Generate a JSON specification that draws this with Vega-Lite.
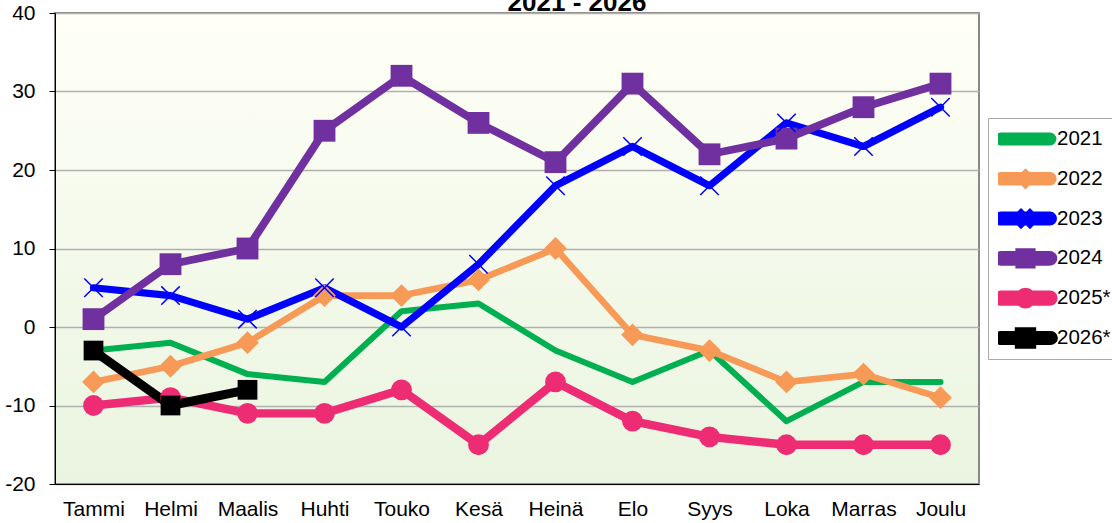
{
  "$schema": "https://vega.github.io/schema/vega-lite/v6.json",
  "width": 924,
  "height": 471,
  "autosize": {"type": "none"},
  "padding": {"left": 55, "top": 13, "right": 133, "bottom": 39},
  "background": "white",
  "title": {"text": "2021 - 2026", "fontSize": 26, "fontWeight": "bold", "font": "Liberation Sans", "anchor": "middle", "frame": "group", "dx": 60, "dy": 38, "baseline": "alphabetic", "offset": 3, "color": "black"},
  "config": {
    "font": "Liberation Sans",
    "view": {
      "stroke": "#888888",
      "strokeWidth": 2,
      "fill": {"gradient": "linear", "x1": 0, "y1": 0, "x2": 0, "y2": 1, "stops": [{"offset": 0, "color": "#FFFFF6"}, {"offset": 1, "color": "#EAF4E0"}]}
    }
  },
  "data": {"values": [
    {"month": "Tammi", "m": 1, "series": "2021", "value": -3},
    {"month": "Helmi", "m": 2, "series": "2021", "value": -2},
    {"month": "Maalis", "m": 3, "series": "2021", "value": -6},
    {"month": "Huhti", "m": 4, "series": "2021", "value": -7},
    {"month": "Touko", "m": 5, "series": "2021", "value": 2},
    {"month": "Kesä", "m": 6, "series": "2021", "value": 3},
    {"month": "Heinä", "m": 7, "series": "2021", "value": -3},
    {"month": "Elo", "m": 8, "series": "2021", "value": -7},
    {"month": "Syys", "m": 9, "series": "2021", "value": -3},
    {"month": "Loka", "m": 10, "series": "2021", "value": -12},
    {"month": "Marras", "m": 11, "series": "2021", "value": -7},
    {"month": "Joulu", "m": 12, "series": "2021", "value": -7},
    {"month": "Tammi", "m": 1, "series": "2022", "value": -7},
    {"month": "Helmi", "m": 2, "series": "2022", "value": -5},
    {"month": "Maalis", "m": 3, "series": "2022", "value": -2},
    {"month": "Huhti", "m": 4, "series": "2022", "value": 4},
    {"month": "Touko", "m": 5, "series": "2022", "value": 4},
    {"month": "Kesä", "m": 6, "series": "2022", "value": 6},
    {"month": "Heinä", "m": 7, "series": "2022", "value": 10},
    {"month": "Elo", "m": 8, "series": "2022", "value": -1},
    {"month": "Syys", "m": 9, "series": "2022", "value": -3},
    {"month": "Loka", "m": 10, "series": "2022", "value": -7},
    {"month": "Marras", "m": 11, "series": "2022", "value": -6},
    {"month": "Joulu", "m": 12, "series": "2022", "value": -9},
    {"month": "Tammi", "m": 1, "series": "2023", "value": 5},
    {"month": "Helmi", "m": 2, "series": "2023", "value": 4},
    {"month": "Maalis", "m": 3, "series": "2023", "value": 1},
    {"month": "Huhti", "m": 4, "series": "2023", "value": 5},
    {"month": "Touko", "m": 5, "series": "2023", "value": 0},
    {"month": "Kesä", "m": 6, "series": "2023", "value": 8},
    {"month": "Heinä", "m": 7, "series": "2023", "value": 18},
    {"month": "Elo", "m": 8, "series": "2023", "value": 23},
    {"month": "Syys", "m": 9, "series": "2023", "value": 18},
    {"month": "Loka", "m": 10, "series": "2023", "value": 26},
    {"month": "Marras", "m": 11, "series": "2023", "value": 23},
    {"month": "Joulu", "m": 12, "series": "2023", "value": 28},
    {"month": "Tammi", "m": 1, "series": "2024", "value": 1},
    {"month": "Helmi", "m": 2, "series": "2024", "value": 8},
    {"month": "Maalis", "m": 3, "series": "2024", "value": 10},
    {"month": "Huhti", "m": 4, "series": "2024", "value": 25},
    {"month": "Touko", "m": 5, "series": "2024", "value": 32},
    {"month": "Kesä", "m": 6, "series": "2024", "value": 26},
    {"month": "Heinä", "m": 7, "series": "2024", "value": 21},
    {"month": "Elo", "m": 8, "series": "2024", "value": 31},
    {"month": "Syys", "m": 9, "series": "2024", "value": 22},
    {"month": "Loka", "m": 10, "series": "2024", "value": 24},
    {"month": "Marras", "m": 11, "series": "2024", "value": 28},
    {"month": "Joulu", "m": 12, "series": "2024", "value": 31},
    {"month": "Tammi", "m": 1, "series": "2025*", "value": -10},
    {"month": "Helmi", "m": 2, "series": "2025*", "value": -9},
    {"month": "Maalis", "m": 3, "series": "2025*", "value": -11},
    {"month": "Huhti", "m": 4, "series": "2025*", "value": -11},
    {"month": "Touko", "m": 5, "series": "2025*", "value": -8},
    {"month": "Kesä", "m": 6, "series": "2025*", "value": -15},
    {"month": "Heinä", "m": 7, "series": "2025*", "value": -7},
    {"month": "Elo", "m": 8, "series": "2025*", "value": -12},
    {"month": "Syys", "m": 9, "series": "2025*", "value": -14},
    {"month": "Loka", "m": 10, "series": "2025*", "value": -15},
    {"month": "Marras", "m": 11, "series": "2025*", "value": -15},
    {"month": "Joulu", "m": 12, "series": "2025*", "value": -15},
    {"month": "Tammi", "m": 1, "series": "2026*", "value": -3},
    {"month": "Helmi", "m": 2, "series": "2026*", "value": -10},
    {"month": "Maalis", "m": 3, "series": "2026*", "value": -8}
  ]},
  "encoding": {
    "x": {"field": "month", "type": "nominal", "sort": ["Tammi", "Helmi", "Maalis", "Huhti", "Touko", "Kesä", "Heinä", "Elo", "Syys", "Loka", "Marras", "Joulu"], "scale": {"type": "point", "padding": 0.5},
      "axis": {"title": null, "ticks": false, "domainColor": "black", "domainWidth": 1, "labelFontSize": 21, "labelFont": "Liberation Sans", "labelColor": "black", "labelPadding": 14, "labelAngle": 0, "grid": false}},
    "y": {"field": "value", "type": "quantitative", "scale": {"domain": [-20, 40], "nice": false, "zero": false},
      "axis": {"title": null, "values": [-20, -10, 0, 10, 20, 30, 40], "labelExpr": "'' + datum.value", "grid": true, "gridColor": "#b0b0b0", "gridWidth": 1.5, "domainColor": "black", "domainWidth": 1, "tickColor": "black", "tickSize": 6, "labelFontSize": 21, "labelFont": "Liberation Sans", "labelColor": "black", "labelPadding": 14}},
    "order": {"field": "m", "type": "quantitative"}
  },
  "layer": [
    {
      "mark": {"type": "line", "strokeCap": "round", "strokeJoin": "round"},
      "encoding": {
        "color": {"field": "series", "type": "nominal",
          "scale": {"domain": ["2021", "2022", "2023", "2024", "2025*", "2026*"], "range": ["#00B050", "#F79A58", "#0000FF", "#7030A0", "#EE2C74", "#000000"]},
          "legend": {
            "orient": "none", "legendX": 933, "legendY": 105, "title": null,
            "strokeColor": "#aaaaaa", "fillColor": "white", "padding": 10,
            "labelFont": "Liberation Sans", "labelFontSize": 20.5, "labelColor": "black",
            "symbolSize": 400, "symbolOffset": 13, "labelOffset": 17, "rowPadding": 17.8, "clipHeight": 22,
            "encode": {"symbols": {"update": {
              "shape": {"signal": "(datum.value === '2026*' ? 'M-2.55,-0.24H2.55C2.68,-0.24 2.79,-0.13 2.79,0C2.79,0.13 2.68,0.24 2.55,0.24H-2.55C-2.68,0.24 -2.79,0.13 -2.79,0C-2.79,-0.13 -2.68,-0.24 -2.55,-0.24Z' : 'M-2.45,-0.34H2.45C2.64,-0.34 2.79,-0.19 2.79,0C2.79,0.19 2.64,0.34 2.45,0.34H-2.45C-2.64,0.34 -2.79,0.19 -2.79,0C-2.79,-0.19 -2.64,-0.34 -2.45,-0.34Z') + (datum.value === '2022' ? ' M0,-0.6L0.6,0L0,0.6L-0.6,0Z' : datum.value === '2023' ? ' M-0.447,-0.553L0.553,0.447L0.447,0.553L-0.553,-0.447Z M0.553,-0.447L-0.447,0.553L-0.553,0.447L0.447,-0.553Z' : datum.value === '2024' || datum.value === '2026*' ? ' M-0.62,-0.62H0.62V0.62H-0.62Z' : datum.value === '2025*' ? ' M-0.62,0C-0.62,-0.342 -0.342,-0.62 0,-0.62C0.342,-0.62 0.62,-0.342 0.62,0C0.62,0.342 0.342,0.62 0,0.62C-0.342,0.62 -0.62,0.342 -0.62,0Z' : '')"},
              "fill": {"scale": "color", "field": "value"},
              "stroke": {"value": "transparent"},
              "strokeWidth": {"value": 0},
              "opacity": {"value": 1}
            }}}
          }},
        "strokeWidth": {"field": "series", "type": "ordinal", "scale": {"domain": ["2021", "2022", "2023", "2024", "2025*", "2026*"], "range": [6, 9, 12, 8, 8, 3.5]}, "legend": null}
      }
    },
    {
      "transform": [{"filter": "datum.series !== '2021' && datum.series !== '2023'"}],
      "mark": {"type": "point", "filled": true, "opacity": 1, "strokeWidth": 0},
      "encoding": {
        "color": {"field": "series", "type": "nominal", "legend": null},
        "shape": {"field": "series", "type": "nominal", "scale": {"domain": ["2022", "2024", "2025*", "2026*"], "range": ["diamond", "square", "circle", "square"]}, "legend": null},
        "size": {"field": "series", "type": "ordinal", "scale": {"domain": ["2022", "2024", "2025*", "2026*"], "range": [520, 390, 320, 390]}, "legend": null}
      }
    },
    {
      "transform": [{"filter": "datum.series === '2023'"}],
      "mark": {"type": "point", "filled": false, "opacity": 1, "strokeWidth": 1.5, "shape": "M-1,-1L1,1M-1,1L1,-1", "size": 340},
      "encoding": {
        "color": {"field": "series", "type": "nominal", "legend": null}
      }
    }
  ]
}
